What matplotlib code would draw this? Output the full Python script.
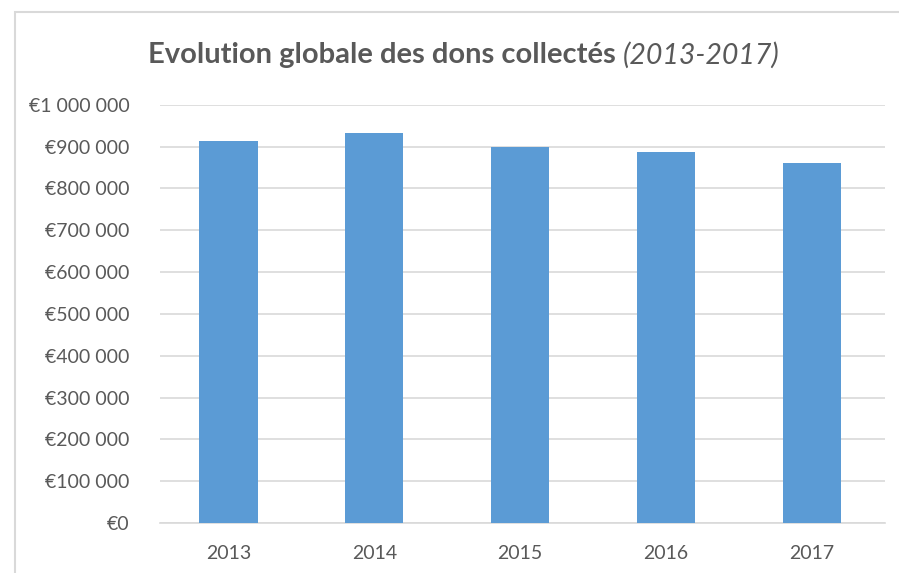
import matplotlib.pyplot as plt
from matplotlib.patches import Rectangle
from matplotlib.ticker import FuncFormatter, MultipleLocator

# data
years = ['2013', '2014', '2015', '2016', '2017']
dons = [914000, 932000, 900000, 888000, 862000]

grey = '#595959'
blue = '#5b9bd5'

plt.rcParams['font.family'] = ['Lato', 'DejaVu Sans']

fig = plt.figure(figsize=(8.99, 5.73), dpi=100)
ax = fig.add_axes([0.178, 0.0873, 0.806, 0.7297])

# chart border (cut off at the right and bottom edges)
fig.patches.append(Rectangle((15 / 899, -0.05), 1.0, 1 - 12 / 573 + 0.05,
                             transform=fig.transFigure, fill=False,
                             edgecolor='#d9d9d9', linewidth=1.5))

ax.bar(years, dons, width=0.4, color=blue, zorder=3)

ax.set_ylim(0, 1000000)
ax.set_xlim(-0.47, 4.5)
ax.yaxis.set_major_locator(MultipleLocator(100000))
ax.yaxis.set_major_formatter(FuncFormatter(
    lambda v, p: '€' + '{:,.0f}'.format(v).replace(',', ' ')))
ax.grid(axis='y', color='#d9d9d9', linewidth=1.2, zorder=0)

for s in ['top', 'right', 'left']:
    ax.spines[s].set_visible(False)
ax.spines['bottom'].set_color('#d9d9d9')
ax.spines['bottom'].set_linewidth(1.2)
ax.tick_params(length=0, labelsize=14, colors=grey)
ax.tick_params(axis='y', pad=22)
ax.tick_params(axis='x', pad=16)

# title: bold part + italic part
fig.text(616 / 899, 1 - 55 / 573, 'Evolution globale des dons collectés',
         ha='right', va='center', fontsize=21, fontweight='bold', color=grey)
fig.text(623 / 899, 1 - 55 / 573, '(2013-2017)',
         ha='left', va='center', fontsize=20.5, fontstyle='italic', color=grey)

fig.savefig('out.png', dpi=100)
